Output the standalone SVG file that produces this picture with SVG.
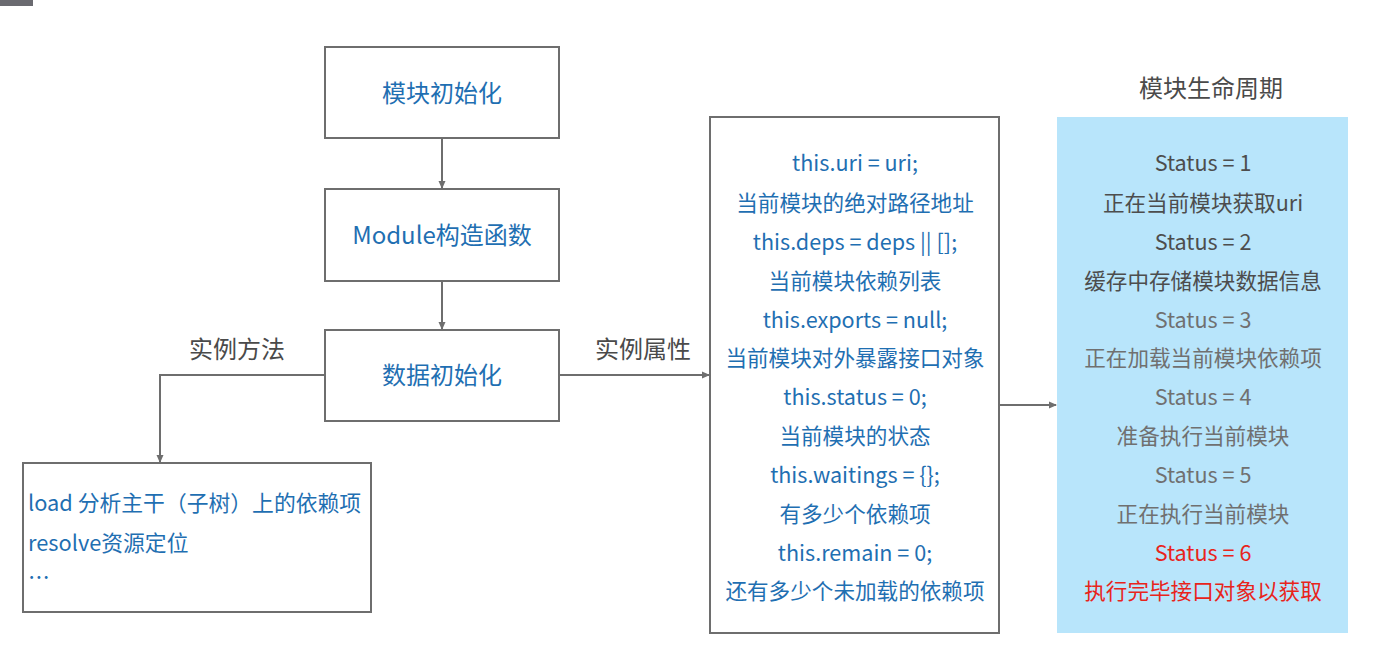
<svg xmlns="http://www.w3.org/2000/svg" width="1382" height="652" viewBox="0 0 1382 652">
<defs>
<marker id="ah" markerWidth="8" markerHeight="8" refX="7" refY="4" orient="auto" markerUnits="userSpaceOnUse">
<path d="M0,0.5 L8,4 L0,7.5 Z" fill="#6e6e6e"/>
</marker>
<style>
text{font-family:"Noto Sans CJK SC","Noto Sans",sans-serif;dominant-baseline:central}
.box{fill:#fff;stroke:#6e6e6e;stroke-width:2}
.conn{fill:none;stroke:#6e6e6e;stroke-width:2}
.h{font-size:24px;fill:#1f6fb2;text-anchor:middle}
.b{font-size:21.6px;fill:#1f6fb2;text-anchor:middle}
.l{font-size:21.8px;fill:#1f6fb2}
.lab{font-size:24px;fill:#4a4a4a;text-anchor:middle}
.d{font-size:21.6px;fill:#4d4d4d;text-anchor:middle}
.g{font-size:21.6px;fill:#707070;text-anchor:middle}
.r{font-size:21.6px;fill:#e8241b;text-anchor:middle}
</style>
</defs>
<rect x="0" y="0" width="1382" height="652" fill="#fff"/>
<rect x="0" y="0" width="33" height="6" fill="#6a6a70"/>
<g id="connectors">
<line class="conn" x1="442" y1="139" x2="442" y2="188" marker-end="url(#ah)"/>
<line class="conn" x1="442" y1="282" x2="442" y2="329" marker-end="url(#ah)"/>
<polyline class="conn" points="325,375 160,375 160,462" marker-end="url(#ah)"/>
<line class="conn" x1="559" y1="375" x2="709" y2="375" marker-end="url(#ah)"/>
<line class="conn" x1="999" y1="405" x2="1056" y2="405" marker-end="url(#ah)"/>
<text class="lab" x="237" y="347">实例方法</text>
<text class="lab" x="643" y="347">实例属性</text>
</g>
<g id="n1">
<rect class="box" x="325" y="47" width="234" height="91"/>
<text class="h" x="442" y="91">模块初始化</text>
</g>
<g id="n2">
<rect class="box" x="325" y="189" width="234" height="92"/>
<text class="h" x="442" y="233">Module构造函数</text>
</g>
<g id="n3">
<rect class="box" x="325" y="330" width="234" height="91"/>
<text class="h" x="442" y="373">数据初始化</text>
</g>
<g id="n4">
<rect class="box" x="23" y="463" width="348" height="149"/>
<text class="l" x="28" y="501">load 分析主干（子树）上的依赖项</text>
<text class="l" x="28" y="541">resolve资源定位</text>
<text class="l" x="28" y="575">…</text>
</g>
<g id="n5">
<rect class="box" x="710" y="117" width="289" height="516"/>
<text class="b" x="855" y="161">this.uri = uri;</text>
<text class="b" x="855" y="201">当前模块的绝对路径地址</text>
<text class="b" x="855" y="240">this.deps = deps || [];</text>
<text class="b" x="855" y="279">当前模块依赖列表</text>
<text class="b" x="855" y="318">this.exports = null;</text>
<text class="b" x="855" y="356">当前模块对外暴露接口对象</text>
<text class="b" x="855" y="395">this.status = 0;</text>
<text class="b" x="855" y="434">当前模块的状态</text>
<text class="b" x="855" y="473">this.waitings = {};</text>
<text class="b" x="855" y="512">有多少个依赖项</text>
<text class="b" x="855" y="551">this.remain = 0;</text>
<text class="b" x="855" y="589">还有多少个未加载的依赖项</text>
</g>
<g id="n6">
<text class="lab" x="1211" y="86">模块生命周期</text>
<rect x="1057" y="117" width="291" height="516" fill="#b8e5fb"/>
<text class="d" x="1203" y="161">Status = 1</text>
<text class="d" x="1203" y="201">正在当前模块获取uri</text>
<text class="d" x="1203" y="240">Status = 2</text>
<text class="d" x="1203" y="279">缓存中存储模块数据信息</text>
<text class="g" x="1203" y="318">Status = 3</text>
<text class="g" x="1203" y="356">正在加载当前模块依赖项</text>
<text class="g" x="1203" y="395">Status = 4</text>
<text class="g" x="1203" y="434">准备执行当前模块</text>
<text class="g" x="1203" y="473">Status = 5</text>
<text class="g" x="1203" y="512">正在执行当前模块</text>
<text class="r" x="1203" y="551">Status = 6</text>
<text class="r" x="1203" y="589">执行完毕接口对象以获取</text>
</g>
</svg>
